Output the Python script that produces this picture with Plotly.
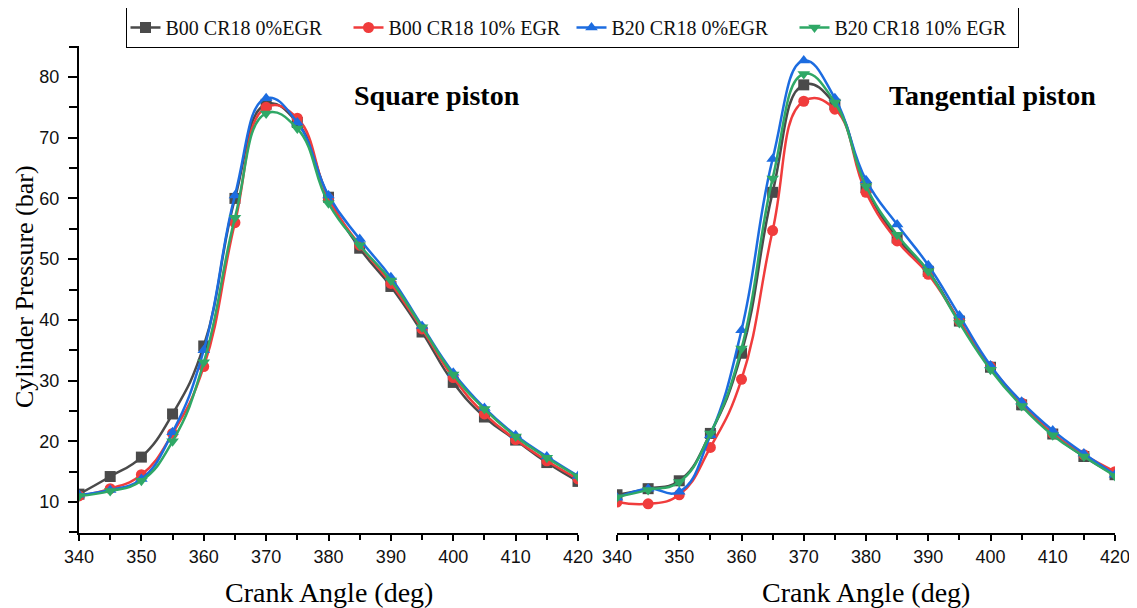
import plotly.graph_objects as go

crank = [340, 345, 350, 355, 360, 365, 370, 375, 380, 385, 390, 395, 400, 405, 410, 415, 420]

series_names = ["B00 CR18 0%EGR", "B00 CR18 10% EGR", "B20 CR18 0%EGR", "B20 CR18 10% EGR"]

# Square piston
sq_b00_0 = [11.3, 14.2, 17.4, 24.5, 35.7, 60.0, 75.5, 72.5, 60.2, 51.8, 45.5, 38.0, 29.7, 24.0, 20.2, 16.5, 13.4]
sq_b00_10 = [11.0, 12.2, 14.5, 21.3, 32.3, 56.0, 75.0, 73.2, 60.0, 52.3, 46.0, 38.5, 30.5, 24.5, 20.3, 16.8, 13.8]
sq_b20_0 = [11.2, 12.0, 13.8, 21.5, 35.0, 60.5, 76.5, 72.5, 60.5, 53.3, 47.0, 39.0, 31.3, 25.5, 21.0, 17.5, 14.3]
sq_b20_10 = [11.0, 11.8, 13.5, 20.0, 33.0, 56.8, 74.0, 71.5, 59.2, 52.3, 46.5, 38.8, 31.0, 25.3, 20.8, 17.3, 14.2]

# Tangential piston
tg_b00_0 = [11.2, 12.2, 13.5, 21.3, 34.5, 61.0, 78.7, 75.5, 61.8, 53.5, 48.0, 39.8, 32.2, 26.0, 21.2, 17.5, 14.5]
tg_b00_10 = [10.0, 9.7, 11.2, 19.0, 30.2, 54.7, 76.0, 74.7, 61.0, 53.0, 47.5, 39.8, 32.3, 26.3, 21.3, 17.8, 15.0]
tg_b20_0 = [10.7, 12.2, 11.7, 21.0, 38.3, 66.5, 82.7, 76.5, 63.0, 55.7, 49.0, 40.7, 32.5, 26.5, 21.8, 18.0, 14.5]
tg_b20_10 = [10.8, 12.0, 13.3, 21.3, 35.3, 63.3, 80.5, 75.8, 62.0, 54.0, 48.0, 39.5, 31.8, 25.8, 21.0, 17.5, 14.3]

colors = ["#4a4a4a", "#f03c3c", "#1c6ce0", "#2fa866"]
symbols = ["square", "circle", "triangle-up", "triangle-down"]

square_data = [sq_b00_0, sq_b00_10, sq_b20_0, sq_b20_10]
tang_data = [tg_b00_0, tg_b00_10, tg_b20_0, tg_b20_10]

fig = go.Figure()
for i, name in enumerate(series_names):
    fig.add_trace(go.Scatter(
        x=crank, y=square_data[i], name=name, mode="lines+markers",
        line=dict(color=colors[i], width=2.5, shape="spline", smoothing=1.3),
        marker=dict(symbol=symbols[i], size=11, color=colors[i]),
        xaxis="x", yaxis="y", legendgroup=name, showlegend=True))
for i, name in enumerate(series_names):
    fig.add_trace(go.Scatter(
        x=crank, y=tang_data[i], name=name, mode="lines+markers",
        line=dict(color=colors[i], width=2.5, shape="spline", smoothing=1.3),
        marker=dict(symbol=symbols[i], size=11, color=colors[i]),
        xaxis="x2", yaxis="y2", legendgroup=name, showlegend=False))

# page body adds an 8px offset; figure coords = window coords - 8
W, H = 1137, 608
ml, mr, mt, mb = 71, 30, 38, 83
pw = W - ml - mr
ph = H - mt - mb
d1 = [0, (570 - ml) / pw]
d2 = [(609 - ml) / pw, 1.0]

def px(x):
    return (x - ml) / pw

def py(y):
    return 1 - (y - mt) / ph

serif = "Liberation Serif, Times New Roman, serif"
tickfont = dict(family="Liberation Sans, Arial", size=18, color="#111")

xcommon = dict(range=[340, 420], tickmode="array", tickvals=list(range(340, 421, 10)),
               ticks="outside", ticklen=6, tickwidth=1.5, tickcolor="#000",
               showline=True, linecolor="#000", linewidth=2, showgrid=False, zeroline=False,
               tickfont=tickfont, automargin=False,
               minor=dict(dtick=5, ticks="outside", ticklen=5, tickwidth=1.5, tickcolor="#000"))

fig.update_layout(
    width=W, height=H,
    margin=dict(l=ml, r=mr, t=mt, b=mb, autoexpand=False),
    paper_bgcolor="white", plot_bgcolor="white",
    xaxis=dict(domain=d1, anchor="y", **xcommon),
    xaxis2=dict(domain=d2, anchor="y2", **xcommon),
    yaxis=dict(range=[4.9, 85.1], tickmode="array", tickvals=list(range(10, 81, 10)),
               ticks="outside", ticklen=9, tickwidth=1.5, tickcolor="#000",
               showline=True, linecolor="#000", linewidth=2, showgrid=False, zeroline=False,
               tickfont=tickfont, automargin=False, ticklabelstandoff=5,
               minor=dict(dtick=5, ticks="outside", ticklen=8, tickwidth=1.5, tickcolor="#000")),
    yaxis2=dict(range=[4.9, 85.1], anchor="x2", showline=False, showticklabels=False,
                ticks="", showgrid=False, zeroline=False),
    legend=dict(orientation="h", x=px(564), xanchor="center", y=py(-1), yanchor="top",
                bordercolor="#000", borderwidth=1, bgcolor="white",
                font=dict(family=serif, size=20, color="#111"),
                entrywidth=178, entrywidthmode="pixels", tracegroupgap=0),
    showlegend=True,
)

anns = [
    dict(text="<b>Square piston</b>", x=px(429), y=py(87), size=28),
    dict(text="<b>Tangential piston</b>", x=px(984), y=py(87), size=28),
    dict(text="Crank Angle (deg)", x=(d1[0] + d1[1]) / 2, y=py(584), size=28),
    dict(text="Crank Angle (deg)", x=(d2[0] + d2[1]) / 2, y=py(584), size=28),
]
fig.update_layout(annotations=[
    dict(text=a["text"], x=a["x"], y=a["y"], xref="paper", yref="paper", showarrow=False,
         xanchor="center", yanchor="middle", font=dict(family=serif, size=a["size"], color="#000"))
    for a in anns
] + [
    dict(text="Cylinder Pressure (bar)", x=px(16), y=py(279), xref="paper", yref="paper",
         showarrow=False, textangle=-90, xanchor="center", yanchor="middle",
         font=dict(family=serif, size=26, color="#000"))
])

fig.write_html("out.html")
